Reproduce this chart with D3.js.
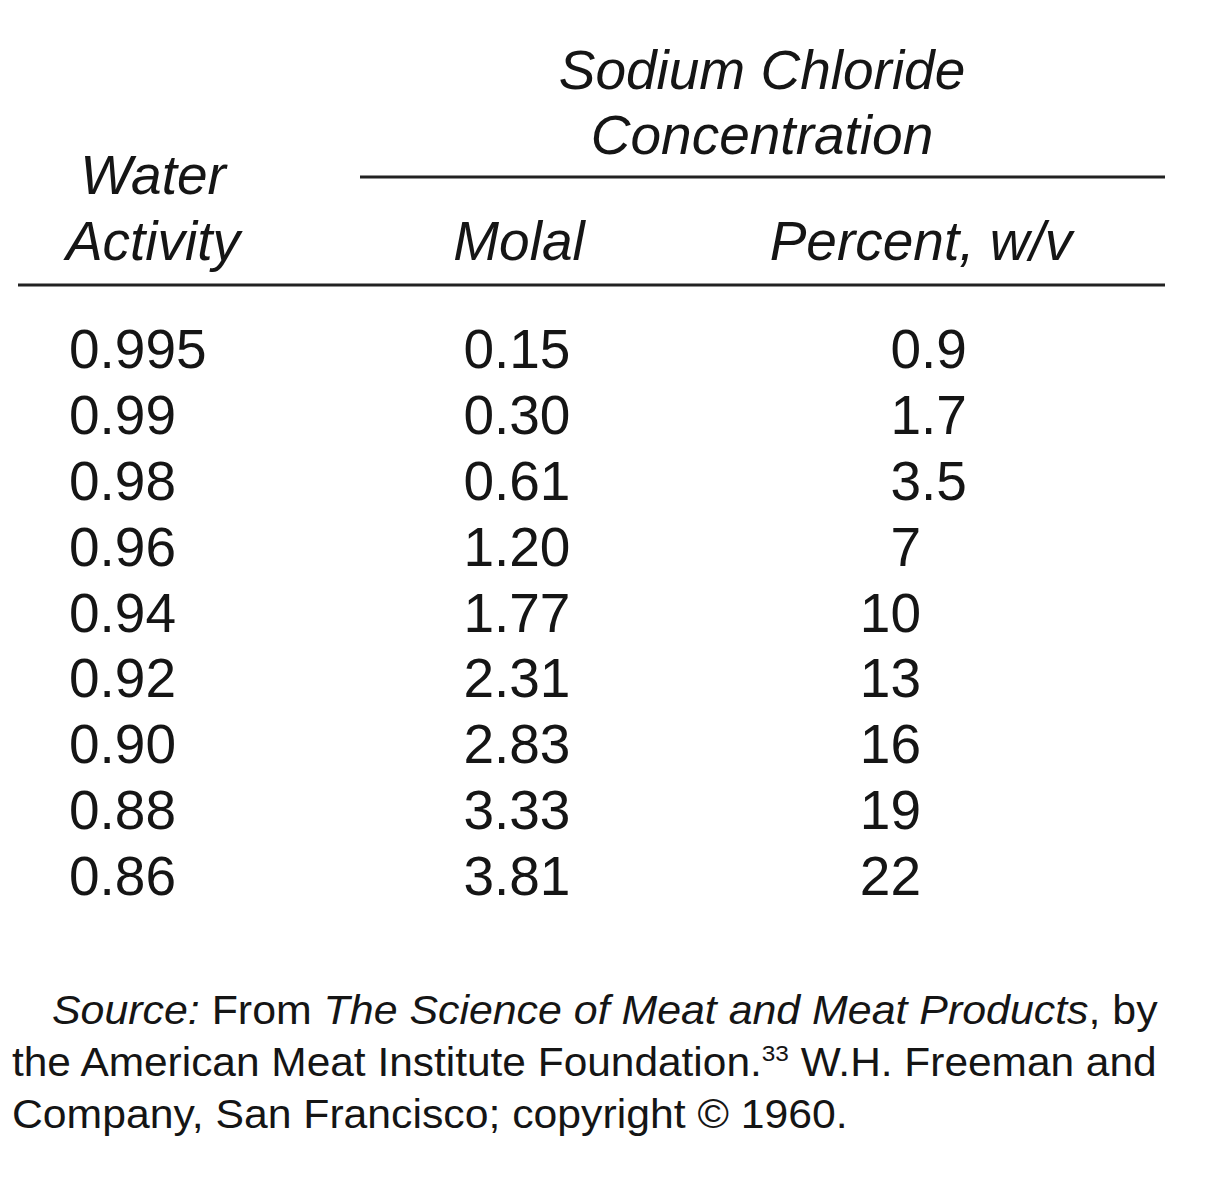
<!DOCTYPE html>
<html>
<head>
<meta charset="utf-8">
<script src="https://cdn.jsdelivr.net/npm/d3@7"></script>
<style>
  html, body { margin: 0; padding: 0; background: #ffffff; }
  svg { display: block; }
  text { font-family: "Liberation Sans", Arial, Helvetica, sans-serif; fill: #151515; }
</style>
</head>
<body>
<script>
// ---- data ----
const waterActivity = ["0.995", "0.99", "0.98", "0.96", "0.94", "0.92", "0.90", "0.88", "0.86"];
const molal = ["0.15", "0.30", "0.61", "1.20", "1.77", "2.31", "2.83", "3.33", "3.81"];
const percentWV = ["0.9", "1.7", "3.5", "7", "10", "13", "16", "19", "22"];

const groupHeader = ["Sodium Chloride", "Concentration"];
const rowHeader = ["Water", "Activity"];
const columnHeaders = ["Molal", "Percent, w/v"];

const footnoteLines = [
  [{t: "Source:", i: true}, {t: " From ", i: false}, {t: "The Science of Meat and Meat Products", i: true}, {t: ", by", i: false}],
  [{t: "the American Meat Institute Foundation.", i: false}, {t: "33", i: false, sup: true}, {t: " W.H. Freeman and", i: false}],
  [{t: "Company, San Francisco; copyright \u00A9 1960.", i: false}]
];

// ---- layout ----
const W = 1214, H = 1200;
const svg = d3.select("body").append("svg").attr("width", W).attr("height", H);

const y = d3.scalePoint().domain(d3.range(waterActivity.length)).range([368, 895]);

const FS = 55;

// Headers
const hdr = svg.append("g").attr("font-size", FS).attr("font-style", "italic").attr("text-anchor", "middle");
hdr.selectAll("text.grp").data(groupHeader).join("text")
  .attr("class", "grp").attr("x", 762).attr("y", (d, i) => 89 + i * 65).text(d => d);
hdr.selectAll("text.rowh").data(rowHeader).join("text")
  .attr("class", "rowh").attr("x", 153).attr("y", (d, i) => 194 + i * 66).text(d => d);
const colCenters = [519, 921];
hdr.selectAll("text.colh").data(columnHeaders).join("text")
  .attr("class", "colh").attr("x", (d, i) => colCenters[i]).attr("y", 260).text(d => d);

// Rules
svg.append("line").attr("x1", 360).attr("x2", 1165).attr("y1", 177).attr("y2", 177)
  .attr("stroke", "#222").attr("stroke-width", 3);
svg.append("line").attr("x1", 18).attr("x2", 1165).attr("y1", 285).attr("y2", 285)
  .attr("stroke", "#222").attr("stroke-width", 3);

// Body
const body = svg.append("g").attr("font-size", FS);
body.selectAll("text.wa").data(waterActivity).join("text")
  .attr("class", "wa").attr("x", 69).attr("y", (d, i) => y(i)).text(d => d);

function decimalColumn(cls, values, xDec) {
  const g = body.append("g").attr("class", cls);
  const rows = values.map((v, i) => ({v, i}));
  g.selectAll("text.int").data(rows).join("text")
    .attr("class", "int").attr("text-anchor", "end")
    .attr("x", xDec).attr("y", d => y(d.i)).text(d => d.v.split(".")[0]);
  g.selectAll("text.frac").data(rows.filter(d => d.v.includes("."))).join("text")
    .attr("class", "frac").attr("x", xDec)
    .attr("y", d => y(d.i)).text(d => "." + d.v.split(".")[1]);
}
decimalColumn("molal", molal, 494);
decimalColumn("pct", percentWV, 921);

// Footnote
const fnStarts = [52, 12, 12];
const fnEnds = [1158, 1157, 848];
const fnBase = [1024, 1076, 1128];
footnoteLines.forEach((segs, li) => {
  const g = svg.append("g");
  const t = g.append("text").attr("x", 0).attr("y", 0).attr("font-size", 40);
  segs.forEach((s, k) => {
    const ts = t.append("tspan").text(s.t).attr("font-style", s.i ? "italic" : "normal");
    if (s.sup) { ts.attr("font-size", 23).attr("dy", -15); }
    else if (k > 0 && segs[k - 1].sup) { ts.attr("dy", 15); }
  });
  const bb = t.node().getBBox();
  const target = fnEnds[li] - fnStarts[li];
  const sx = target / bb.width;
  g.attr("transform", `translate(${fnStarts[li] - bb.x * sx},${fnBase[li]}) scale(${sx},1)`);
});
</script>
</body>
</html>
